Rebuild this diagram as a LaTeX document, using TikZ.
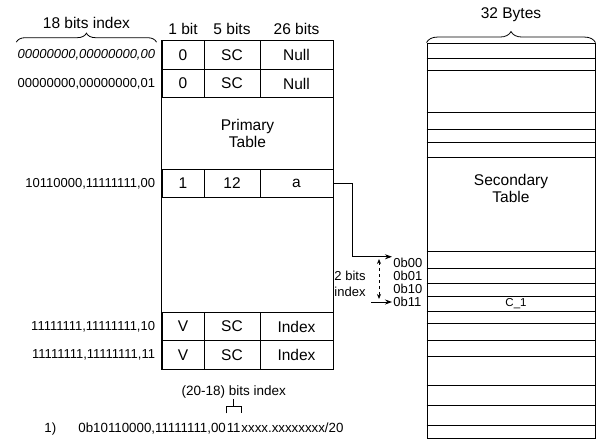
\documentclass[tikz,border=0pt]{standalone}
\usepackage{fontspec}
\setmainfont{Liberation Sans}
\usetikzlibrary{positioning,decorations.pathreplacing,arrows.meta}
\tikzset{
  cell/.style={draw, inner sep=0pt, minimum height=28.5pt, font=\fontsize{15.5}{17}\selectfont},
  bitcell/.style={cell, minimum width=42pt},
  sccell/.style={cell, minimum width=56pt},
  valcell/.style={cell, minimum width=73pt},
  colhead/.style={font=\fontsize{15.5}{17}\selectfont, inner sep=1pt},
  addr/.style={font=\fontsize{13}{16}\selectfont, inner sep=1pt},
  slot/.style={font=\fontsize{13}{14}\selectfont, inner sep=1pt, anchor=west},
  bottext/.style={font=\fontsize{13.3}{15}\selectfont, inner sep=0pt, anchor=base west},
  curly/.style={decorate, decoration={brace, amplitude=#1}, line width=0.8pt},
  pointer/.style={-{Stealth[length=7pt,width=5pt]}, line width=0.8pt},
  twoway/.style={{Stealth[length=5pt,width=4pt]}-{Stealth[length=5pt,width=4pt]}, dashed, line width=0.8pt},
}

\begin{document}
\begin{tikzpicture}[x=1pt, y=-1pt, line width=0.9pt]
  \useasboundingbox (0,0) rectangle (602,441);
  % primary table
  \foreach \r/\y/\a/\b/\c in {1/55/0/SC/Null, 2/83.5/0/SC/Null, 3/183.5/1/12/a,
                              4/326.5/V/SC/Index, 5/355/V/SC/Index}{
    \node[bitcell] (b\r) at (183,\y)   {\a};
    \node[sccell]  (s\r) at (232,\y)   {\b};
    \node[valcell] (v\r) at (296.5,\y) {\c};
  }
  \draw (b1.north west) -- (b5.south west);
  \draw (v1.north east) -- (v5.south east);
  \node[colhead, align=center] (ptab) at (247.5,133) {Primary\\Table};
  \node[colhead, above=4pt of b1] (h1) {1 bit};
  \node[colhead, above=4pt of s1] (h2) {5 bits};
  \node[colhead, above=4pt of v1] (h3) {26 bits};
  % addresses
  \node[addr, left=5pt of b1, font=\fontsize{13}{16}\selectfont\itshape] (a1) {00000000,00000000,00};
  \node[addr, left=5pt of b2] (a2) {00000000,00000000,01};
  \node[addr, left=5pt of b3] (a3) {10110000,11111111,00};
  \node[addr, left=5pt of b4] (a4) {11111111,11111111,10};
  \node[addr, left=5pt of b5] (a5) {11111111,11111111,11};
  \draw[curly=9pt] ([yshift=6pt]a1.north west) -- ([yshift=6pt]a1.north east)
    node[colhead, midway, above=12pt] (idxhead) {18 bits index};

  % secondary table
  \node[draw, minimum width=168pt, minimum height=395pt, inner sep=0pt] (stab) at (511,240.5) {};
  \foreach \y in {58,70,112,129,142,157,251,268,283,296,311,323,340,356,385,405,425}
    \draw (stab.west |- 0,\y) -- (stab.east |- 0,\y);
  \draw[curly=11pt] (stab.north west) -- (stab.north east)
    node[colhead, midway, above=19pt] (bytes) {32 Bytes};
  \node[colhead, align=center] (stext) at (511,188) {Secondary\\Table};
  \node[font=\fontsize{11.5}{12}\selectfont, inner sep=0pt] (c1) at (516,304) {C\_1};
  \foreach \n/\t/\y in {00/0b00/263, 01/0b01/275.5, 10/0b10/289, 11/0b11/302}
    \node[slot] (l\n) at (392,\y) {\t};

  % pointers
  \draw[pointer] (v3.east) -- ++(19,0) |- (l00.north west);
  \draw[pointer] ([xshift=-21pt]l11.west) -- (l11.west);
  \coordinate (dtop) at (379,259);
  \coordinate (dbot) at (379,299);
  \draw[twoway] (dtop) -- (dbot);
  \node[addr, align=left, anchor=west] (bitsidx) at (333,283.5) {2 bits\\index};

  % example address
  \node[bottext] (num) at (44,432) {1)};
  \node[bottext] (pre) at (78,432) {0b10110000,11111111,00};
  \node[bottext] (hi) at (pre.base east) {11};
  \node[bottext] (post) at (hi.base east) {xxxx.xxxxxxxx/20};
  \draw[line width=0.8pt] ([yshift=9pt]hi.north west) |- ([yshift=16pt]hi.north) -| ([yshift=9pt]hi.north east);
  \draw[line width=0.8pt] ([yshift=16pt]hi.north) -- ([yshift=23pt]hi.north) coordinate (stem);
  \node[addr, above=0pt of stem, font=\fontsize{13.5}{16}\selectfont] (subidx) {(20-18) bits index};
\end{tikzpicture}
\end{document}
